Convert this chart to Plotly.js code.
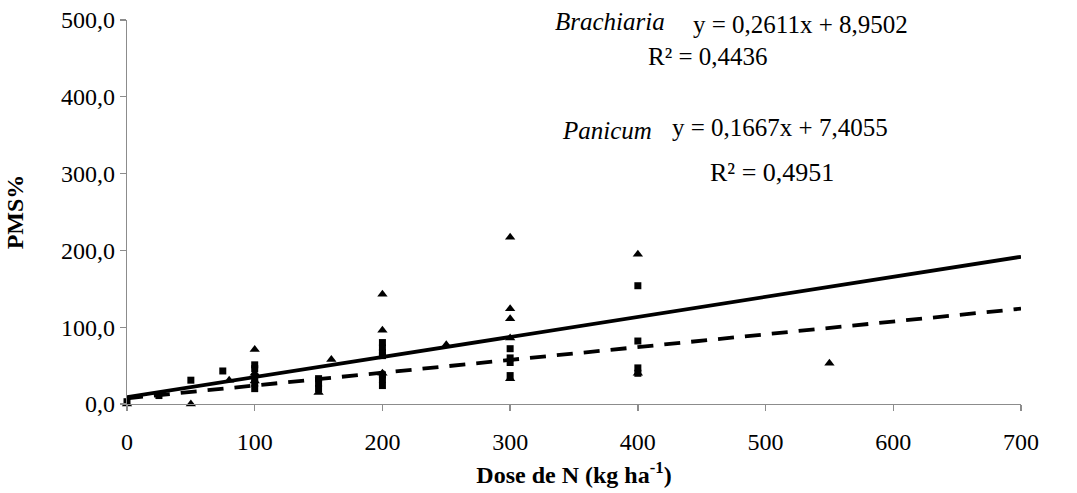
<!DOCTYPE html>
<html>
<head>
<meta charset="utf-8">
<script src="https://cdn.plot.ly/plotly-3.0.1.min.js"></script>
<style>
html,body{margin:0;padding:0;background:#fff;}
#chart{width:1077px;height:493px;}
#chart svg text{font-family:'Liberation Serif',serif !important;}
</style>
</head>
<body>
<div id="chart"></div>
<script>
// Brachiaria observations (triangles)
const brachiariaDose = [0, 50, 80, 100, 100, 100, 150, 160, 200, 200, 200, 250, 300, 300, 300, 300, 300, 400, 400, 550];
const brachiariaPMS  = [0, 0, 31, 71, 40, 30, 15, 58, 143, 96, 40, 77, 217, 124, 111, 86, 33, 195, 40, 53];
// Panicum observations (squares)
const panicumDose = [0, 25, 50, 75, 100, 100, 100, 100, 100, 150, 150, 150, 200, 200, 200, 200, 200, 200, 200, 300, 300, 300, 300, 400, 400, 400, 400];
const panicumPMS  = [3, 11, 31, 43, 51, 46, 35, 27, 20, 33, 27, 20, 80, 73, 67, 63, 38, 32, 24, 72, 60, 54, 37, 154, 82, 47, 40];
// Linear fits (from the chart's equations)
const brachiariaFit = {slope: 0.2611, intercept: 8.9502};
const panicumFit = {slope: 0.1667, intercept: 7.4055};
const fitRange = [0, 700];
// Axis ticks
const xTicks = [0, 100, 200, 300, 400, 500, 600, 700];
const yTicks = [0, 100, 200, 300, 400, 500];

const serif = 'Liberation Serif';

function fitY(f, xs) { return xs.map(x => f.slope * x + f.intercept); }

const traces = [
  {x: fitRange, y: fitY(brachiariaFit, fitRange), mode: 'lines', type: 'scatter',
   line: {color: '#000', width: 3.8}, hoverinfo: 'skip', cliponaxis: false},
  {x: fitRange, y: fitY(panicumFit, fitRange), mode: 'lines', type: 'scatter',
   line: {color: '#000', width: 3.8, dash: '16px,11px'}, hoverinfo: 'skip', cliponaxis: false},
  {x: brachiariaDose, y: brachiariaPMS, mode: 'markers', type: 'scatter', name: 'Brachiaria',
   marker: {symbol: 'triangle-up', size: 9, color: '#000'}, cliponaxis: false},
  {x: panicumDose, y: panicumPMS, mode: 'markers', type: 'scatter', name: 'Panicum',
   marker: {symbol: 'square', size: 7, color: '#000'}, cliponaxis: false}
];

function ann(text, x, y, size) {
  return {text: text, x: x, y: y, xref: 'paper', yref: 'paper', xanchor: 'center', yanchor: 'middle',
          showarrow: false, font: {family: serif, size: size || 25, color: '#000'}};
}
const layout = {
  width: 1077, height: 493,
  margin: {l: 127, r: 56, t: 20, b: 89},
  paper_bgcolor: '#fff', plot_bgcolor: '#fff',
  showlegend: false,
  separators: ',.',
  font: {family: serif, color: '#000'},
  xaxis: {
    range: [0, 700], tickvals: xTicks, ticktext: xTicks.map(String),
    showgrid: false, zeroline: false, showline: true, linecolor: '#8c8c8c', linewidth: 1.3,
    ticks: 'outside', ticklen: 6, tickcolor: '#8c8c8c', tickwidth: 1.3, ticklabelstandoff: 10,
    tickfont: {family: serif, size: 24, color: '#000'},
    title: {text: '<b>Dose de N (kg ha<sup>-1</sup>)</b>', font: {family: serif, size: 24, color: '#000'}, standoff: 12}
  },
  yaxis: {
    range: [0, 500], tickvals: yTicks, tickformat: '.1f',
    showgrid: false, zeroline: false, showline: true, linecolor: '#8c8c8c', linewidth: 1.3,
    ticks: 'outside', ticklen: 6, tickcolor: '#8c8c8c', tickwidth: 1.3,
    tickfont: {family: serif, size: 24, color: '#000'},
    title: {text: '<b>PMS%</b>', font: {family: serif, size: 24, color: '#000'}, standoff: 30}
  },
  annotations: [
    ann('<i>Brachiaria</i>', 0.5403, 0.997),
    ann('y = 0,2611x + 8,9502', 0.7539, 0.987),
    ann('R² = 0,4436', 0.6499, 0.906),
    ann('<i>Panicum</i>', 0.5369, 0.7135),
    ann('y = 0,1667x + 7,4055', 0.7304, 0.7188),
    ann('R² = 0,4951', 0.7215, 0.6016, 26)
  ]
};

Plotly.newPlot('chart', traces, layout, {displayModeBar: false, staticPlot: true});
</script>
</body>
</html>
